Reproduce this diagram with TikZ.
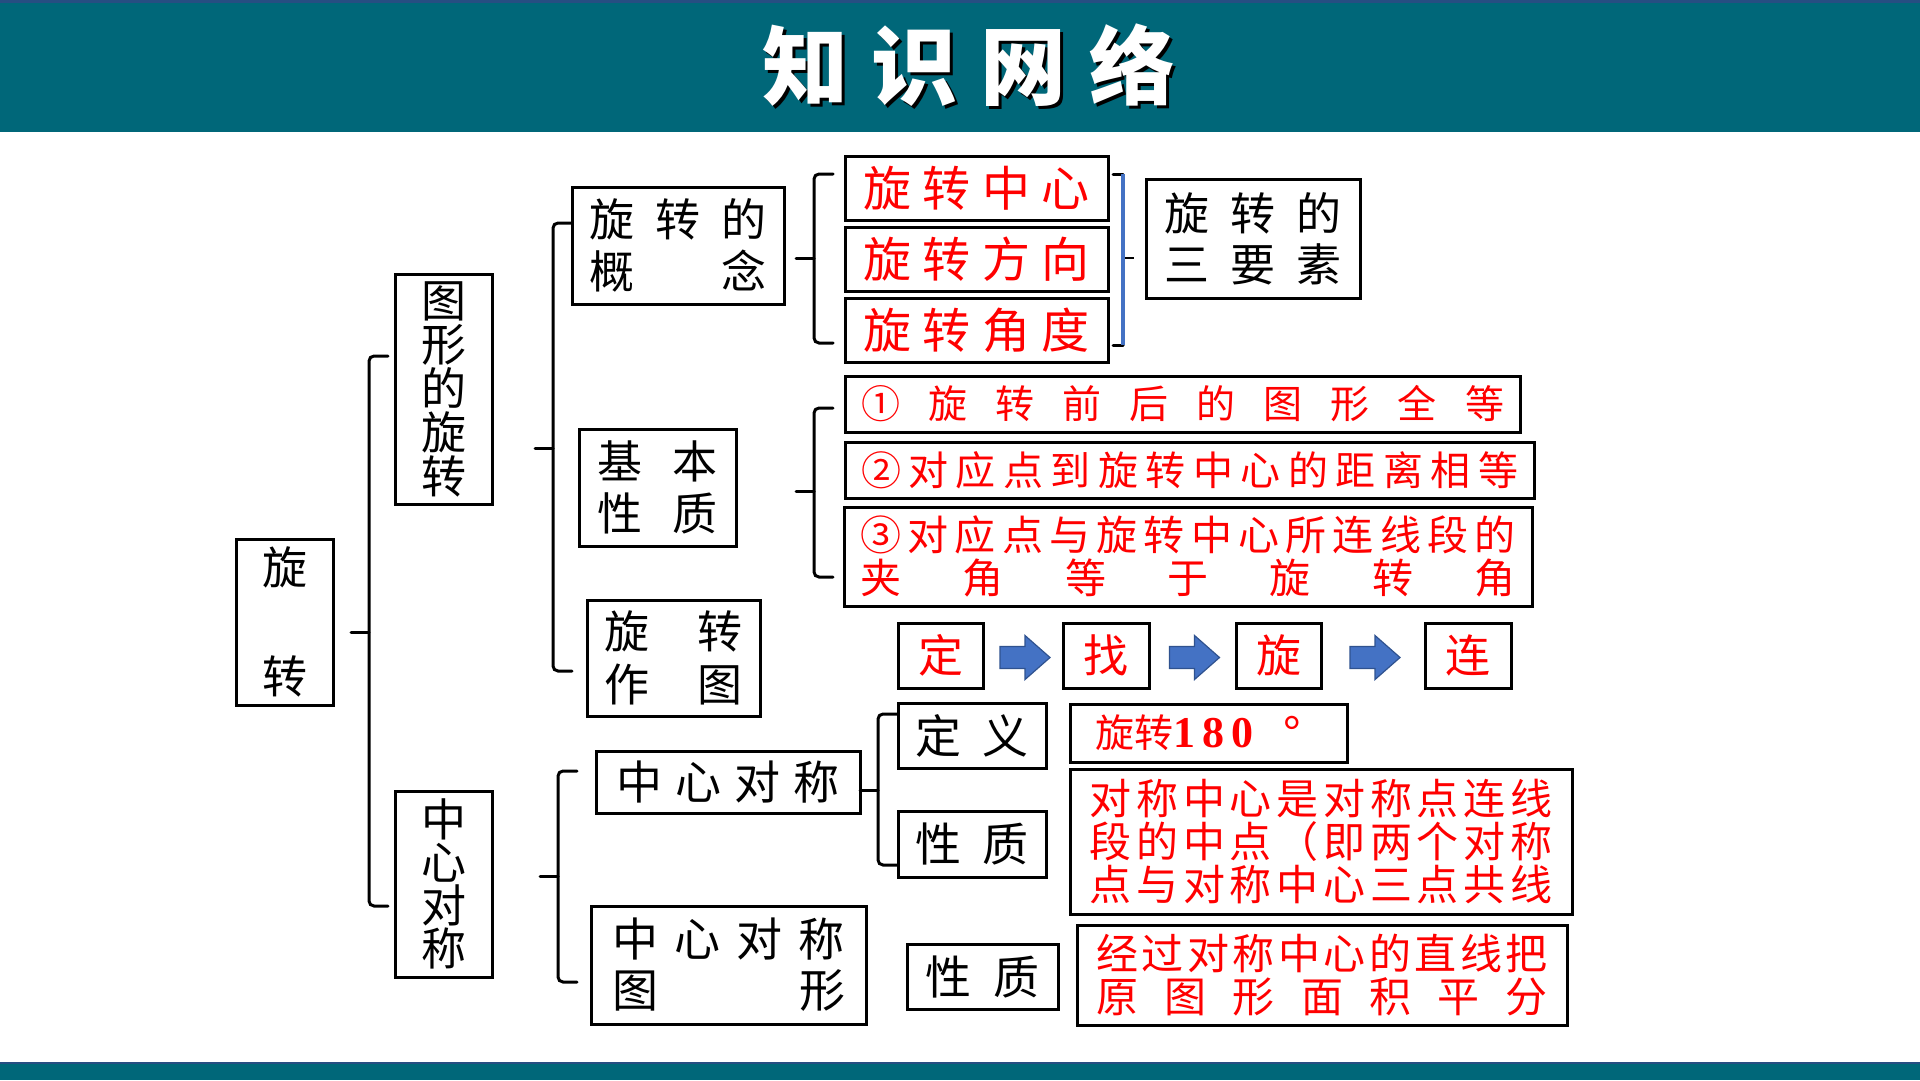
\documentclass[tikz,border=0pt]{standalone}
\usepackage{fontspec}
\setmainfont{Noto Sans CJK SC}
\newfontfamily\tnr{Liberation Serif}
\usetikzlibrary{calc}
\definecolor{hdr}{RGB}{0,103,121}
\definecolor{hdrline}{RGB}{38,78,130}
\definecolor{arrfill}{RGB}{68,114,196}
\definecolor{arrline}{RGB}{47,82,143}
\definecolor{brblue}{RGB}{68,114,196}
\ExplSyntaxOn
\NewDocumentCommand\spread{mm}{
  \seq_set_split:Nnn \l_tmpa_seq {} {#2}
  \makebox[#1pt]{\seq_use:Nn \l_tmpa_seq {\hfill}}
}
\ExplSyntaxOff
\newcommand\fz[1]{\fontsize{#1}{#1}\selectfont}
\newcommand\brR[4]{%
  \draw[brk] (#1+19,#2) -- (#1,#2) -- (#1,#3) -- (#1+19,#3);
  \draw[brk] (#1-18,#4) -- (#1,#4);}
\begin{document}
\begin{tikzpicture}[x=1pt,y=-1pt,
  box/.style={draw=black,line width=3pt,inner sep=0pt,fill=white,align=center},
  bx/.style 2 args={box,minimum width=#1pt,minimum height=#2pt},
  rt/.style={text=red},
  brk/.style={line width=3pt,rounded corners=5pt,line cap=round},
  blockarr/.style={fill=arrfill,draw=arrline,line width=1.2pt}]
\useasboundingbox (0,0) rectangle (1920,1080);
\fill[white] (0,0) rectangle (1920,1080);
% header and footer bands
\fill[hdr] (0,0) rectangle (1920,132);
\fill[hdrline] (0,0) rectangle (1920,3);
\fill[hdr] (0,1062) rectangle (1920,1080);
\fill[hdrline] (0,1062) rectangle (1920,1064);
\node (title) at (969,67) {\fz{86}\bfseries\rlap{\raisebox{-3pt}{\kern3pt\color{black}\spread{414}{知识网络}}}\color{white}\spread{414}{知识网络}};

% level 0 and 1
\node[bx={97}{166},font=\fontsize{45}{109}\selectfont] (rot) at (284.5,622) {旋\\转};
\node[bx={97}{230},font=\fontsize{45}{44}\selectfont] (fig) at (443.5,389) {图\\形\\的\\旋\\转};
\node[bx={97}{186},font=\fontsize{45}{43}\selectfont] (csv) at (443.5,884) {中\\心\\对\\称};

% level 2 (rotation)
\node[bx={212}{117},font=\fontsize{45}{52}\selectfont] (concept) at (678,245.5) {\spread{178}{旋转的}\\\spread{178}{概念}};
\node[bx={157}{117},font=\fontsize{45}{52}\selectfont] (basic) at (657.5,487.5) {\spread{121}{基本}\\\spread{121}{性质}};
\node[bx={173}{116},font=\fontsize{45}{53}\selectfont] (draw) at (673.5,658) {\spread{139}{旋转}\\\spread{139}{作图}};

% three elements
\node[bx={263}{64},rt,font=\fz{48}] (e1) at (976.5,188) {\spread{226}{旋转中心}};
\node[bx={263}{64},rt,font=\fz{48}] (e2) at (976.5,259) {\spread{226}{旋转方向}};
\node[bx={263}{64},rt,font=\fz{48}] (e3) at (976.5,330) {\spread{226}{旋转角度}};
\node[bx={214}{119},font=\fontsize{45}{51}\selectfont] (three) at (1253,238.5) {\spread{178}{旋转的}\\\spread{178}{三要素}};

% basic properties
\node[bx={675}{56},rt,font=\fz{39}] (p1) at (1182.5,404) {\spread{643}{①旋转前后的图形全等}};
\node[bx={689}{56},rt,font=\fz{40}] (p2) at (1189.5,470) {\spread{657}{②对应点到旋转中心的距离相等}};
\node[bx={688}{99},rt,font=\fontsize{41}{43}\selectfont] (p3) at (1188,556.5) {\spread{655}{③对应点与旋转中心所连线段的}\\\spread{655}{夹角等于旋转角}};

% construction steps
\node[bx={85}{65},rt,font=\fz{45}] (s1) at (940.5,655.5) {定};
\node[bx={86}{65},rt,font=\fz{45}] (s2) at (1106,655.5) {找};
\node[bx={85}{65},rt,font=\fz{45}] (s3) at (1278.5,655.5) {旋};
\node[bx={86}{65},rt,font=\fz{45}] (s4) at (1468,655.5) {连};
\foreach \a/\b/\n in {s1/s2/a1,s2/s3/a2,s3/s4/a3}{
  \coordinate (\n) at ($(\a.east)!0.5!(\b.west)+(2,2)$);
  \draw[blockarr] ($(\n)+(-25,-11)$) -- ($(\n)+(0,-11)$) -- ($(\n)+(0,-22)$) -- ($(\n)+(25,0)$)
     -- ($(\n)+(0,22)$) -- ($(\n)+(0,11)$) -- ($(\n)+(-25,11)$) -- cycle;
}

% central symmetry
\node[bx={264}{62},font=\fz{46}] (csh) at (728,782) {\spread{223}{中心对称}};
\node[bx={275}{118},font=\fontsize{46}{51}\selectfont] (csf) at (728.5,965) {\spread{233}{中心对称}\\\spread{233}{图形}};
\node[bx={148}{65},font=\fz{46}] (def) at (972,735.5) {\spread{113}{定义}};
\node[bx={148}{66},font=\fz{46}] (prop1) at (972,844) {\spread{113}{性质}};
\node[bx={277}{58},rt] (r180) at (1208.5,733) {\makebox[226pt][l]{\fz{39}旋转{\tnr\bfseries\fz{44}\spread{80}{180}\hspace{30pt}\raisebox{2pt}{°}}}};
\node[bx={502}{145},rt,font=\fontsize{42}{43}\selectfont] (rmid) at (1321,841.5) {\spread{463}{对称中心是对称点连线}\\\spread{463}{段的中点（即两个对称}\\\spread{463}{点与对称中心三点共线}};
\node[bx={151}{65},font=\fz{46}] (prop2) at (982.5,976.5) {\spread{114}{性质}};
\node[bx={490}{100},rt,font=\fontsize{42}{43}\selectfont] (rarea) at (1322,975) {\spread{451}{经过对称中心的直线把}\\\spread{451}{原图形面积平分}};

% brackets
\brR{369}{356}{906}{632}
\brR{553}{223}{671}{448}
\brR{814}{174}{343}{258}
\brR{814}{408}{577}{491}
\brR{558}{771}{982}{876}
\brR{878}{714}{865}{790}
% blue bracket for the three elements
\draw[brk] (1113,174) -- (1123,174);
\draw[brk] (1113,345) -- (1123,345);
\draw[line width=4pt,brblue] (1123,174) -- (1123,345);
\draw[line width=2.5pt] (1125,258) -- (1134,258);
\end{tikzpicture}
\end{document}
